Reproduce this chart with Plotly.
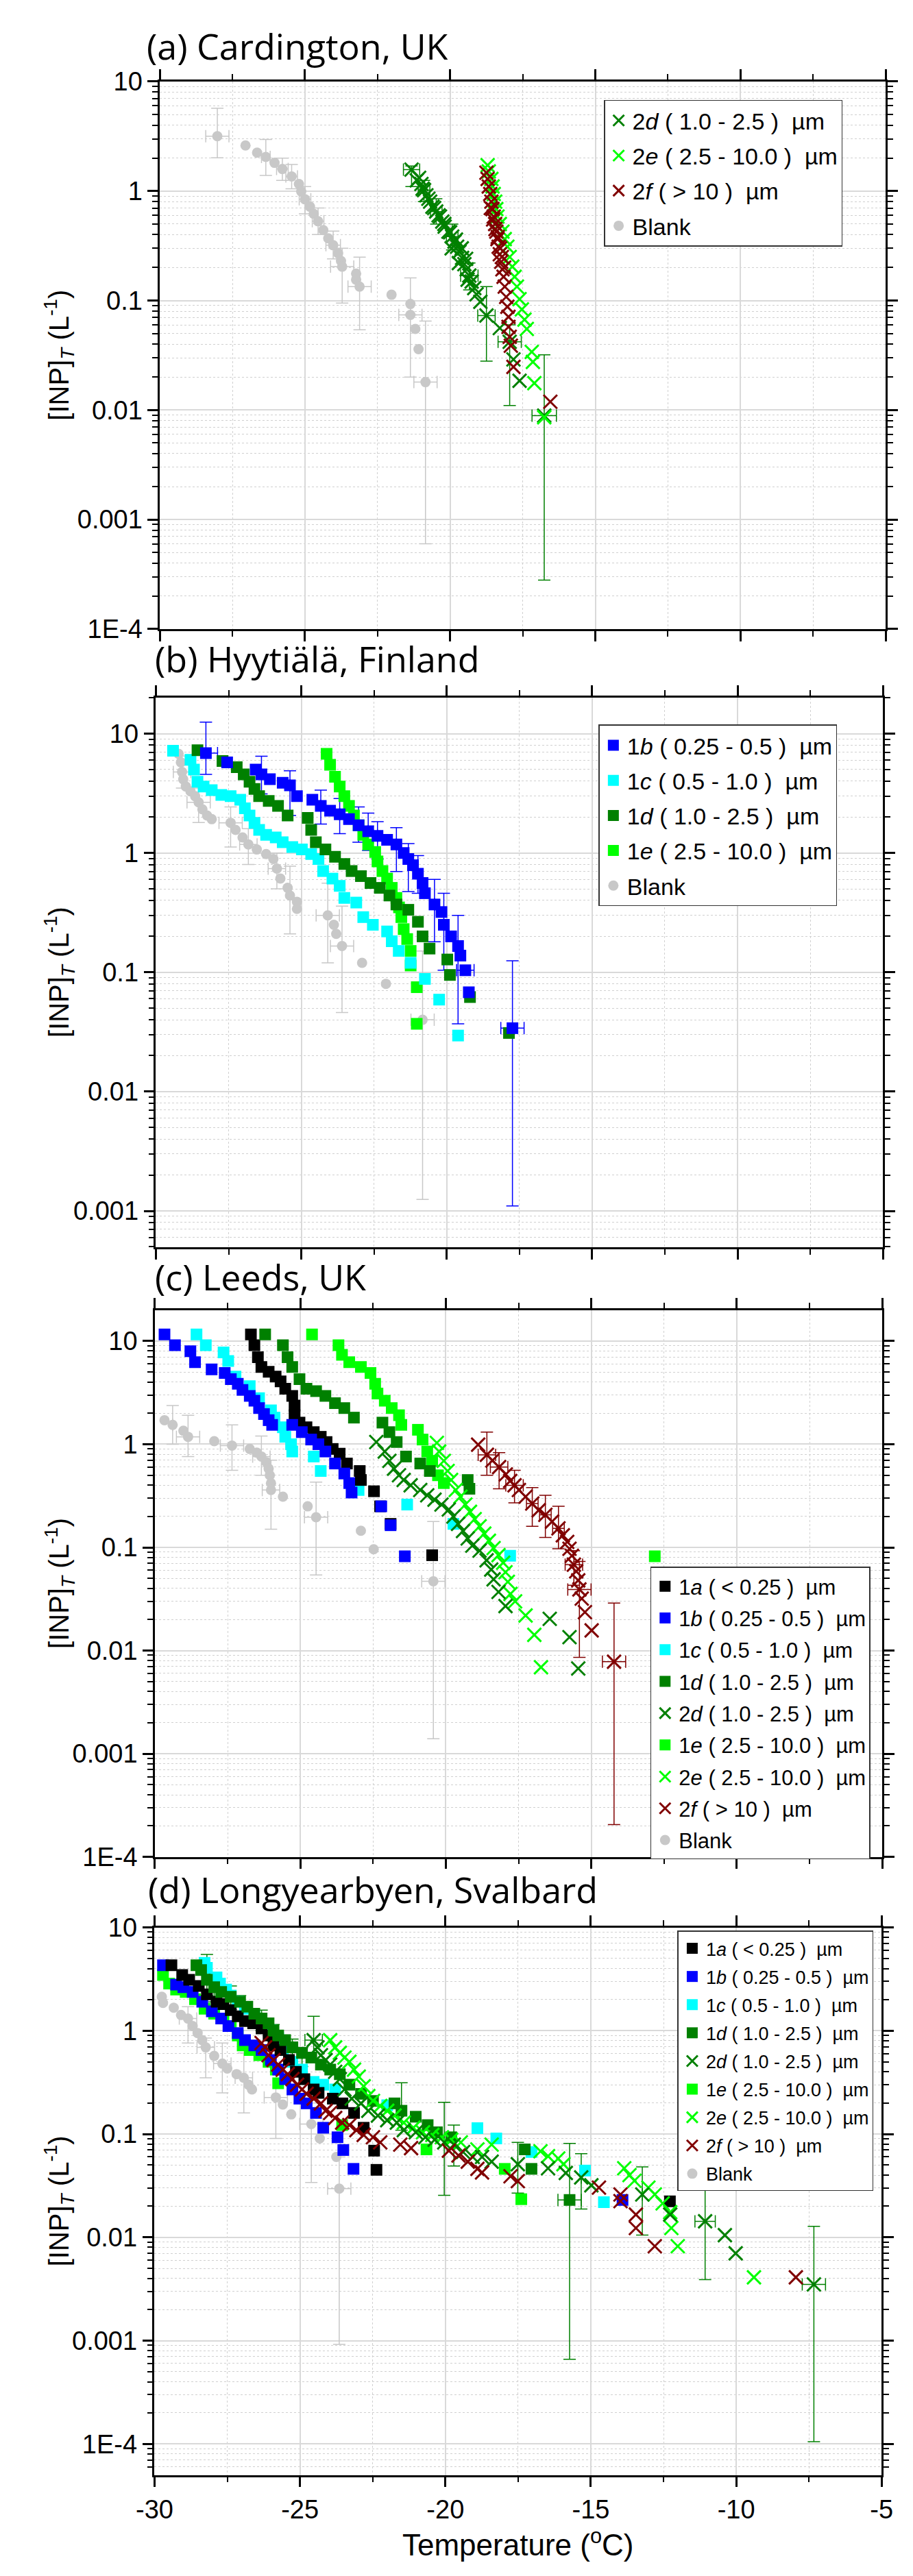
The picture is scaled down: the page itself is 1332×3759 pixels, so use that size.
import plotly.graph_objects as go

# ---------------- DATA ----------------
# Panel (a) Cardington, UK
a_blank_T = [-28.02,-27.05,-26.65,-26.35,-26.05,-25.78,-25.46,-25.21,-25.13,-25.0,-24.83,-24.70,-24.55,-24.37,-24.20,-24.03,-23.86,-23.76,-23.72,-23.24,-23.24,-23.12,-22.02,-21.37,-21.37,-21.20,-21.09,-20.85]
a_blank_C = [3.17,2.61,2.24,2.05,1.81,1.59,1.36,1.16,0.99,0.84,0.72,0.62,0.53,0.44,0.37,0.32,0.27,0.23,0.204,0.176,0.155,0.134,0.113,0.093,0.074,0.055,0.036,0.018]
a_2d_T = [-21.33,-21.07,-20.99,-20.90,-20.82,-20.69,-20.61,-20.48,-20.35,-20.27,-20.19,-20.06,-19.93,-19.85,-19.76,-19.68,-19.59,-19.51,-19.43,-19.34,-19.26,-19.17,-19.09,-18.96,-18.75,-18.29,-17.95,-17.82,-17.61,-16.76,
          -21.15,-20.95,-20.75,-20.55,-20.40,-20.20,-20.00,-19.80,-19.60,-19.45,-19.95,-19.70,-19.40]
a_2d_C = [1.57,1.32,1.16,1.02,0.915,0.80,0.72,0.65,0.585,0.526,0.473,0.426,0.384,0.345,0.31,0.279,0.245,0.215,0.193,0.169,0.149,0.130,0.114,0.0974,0.073,0.056,0.042,0.029,0.0185,0.0089,
          1.25,1.05,0.85,0.70,0.60,0.50,0.42,0.36,0.30,0.24,0.30,0.22,0.155]
a_2e_T = [-18.71,-18.67,-18.58,-18.54,-18.50,-18.45,-18.41,-18.37,-18.29,-18.20,-18.12,-18.03,-17.95,-17.86,-17.78,-17.70,-17.61,-17.53,-17.44,-17.36,-17.19,-17.15,-17.10,-16.76]
a_2e_C = [1.72,1.51,1.29,1.10,0.94,0.80,0.684,0.585,0.50,0.426,0.364,0.31,0.25,0.204,0.165,0.134,0.103,0.083,0.067,0.055,0.034,0.0275,0.0176,0.0086]
a_2f_T = [-18.75,-18.71,-18.67,-18.62,-18.58,-18.54,-18.50,-18.45,-18.41,-18.37,-18.33,-18.29,-18.24,-18.20,-18.16,-18.12,-18.07,-18.03,-17.99,-17.99,-17.95,-17.91,-17.82,-16.55,
          -18.60,-18.52,-18.44,-18.36,-18.28,-18.22,-18.14]
a_2f_C = [1.47,1.29,1.10,0.94,0.80,0.684,0.585,0.50,0.426,0.364,0.31,0.265,0.226,0.193,0.165,0.134,0.108,0.0877,0.071,0.0575,0.0466,0.0387,0.0248,0.0119,
          0.70,0.55,0.45,0.38,0.30,0.25,0.20]
# error bars: (T, conc, upper, lower, x half-width)
a_blank_err = [(-28.02,3.17,5.69,2.01,0.40),(-26.35,2.05,2.96,1.39,0.15),(-25.78,1.59,2.0,1.25,0.20),
               (-25.46,1.36,1.75,1.05,0.20),(-25.0,0.84,1.1,0.62,0.20),(-24.55,0.53,0.70,0.40,0.20),
               (-24.03,0.32,0.43,0.24,0.25),(-23.72,0.204,0.30,0.095,0.40),(-23.12,0.134,0.249,0.054,0.40),
               (-21.37,0.093,0.161,0.020,None),(-21.37,0.074,None,None,0.40),(-20.85,0.018,0.065,0.0006,0.40)]
a_2d_err = [(-21.33,1.57,1.69,1.10,0.28),(-20.90,1.02,1.25,0.80,0.2),(-20.48,0.65,0.85,0.5,0.2),
            (-19.93,0.384,0.5,0.29,0.2),(-19.34,0.169,0.22,0.125,0.3),(-18.75,0.073,0.134,0.028,0.3),
            (-17.95,0.042,0.06,0.011,0.4),(-16.76,0.0089,0.032,0.00028,0.42)]

# Panel (b) Hyytiälä, Finland
b_1b_T = [-28.28,-27.55,-26.57,-26.37,-26.08,-25.64,-25.39,-25.15,-24.62,-24.33,-24.01,-23.68,-23.36,-23.03,-22.70,-22.38,-22.05,-21.73,-21.48,-21.32,-21.16,-20.99,-20.83,-20.75,-20.42,-20.18,-20.10,-19.85,-19.61,-19.53,-19.36,-19.24,-17.74]
b_1b_C = [6.87,5.75,5.0,4.56,4.15,3.87,3.69,2.99,2.79,2.48,2.26,2.11,1.92,1.71,1.52,1.39,1.29,1.18,1.0,0.89,0.79,0.67,0.56,0.46,0.37,0.32,0.25,0.20,0.166,0.138,0.104,0.068,0.034]
b_1c_T = [-29.41,-28.81,-28.69,-28.57,-28.36,-28.08,-27.75,-27.43,-27.10,-26.94,-26.78,-26.61,-26.45,-26.21,-25.88,-25.64,-25.31,-24.98,-24.66,-24.41,-24.25,-23.93,-23.68,-23.52,-23.11,-22.87,-22.54,-22.05,-21.89,-21.65,-21.24,-20.75,-20.26,-19.61]
b_1c_C = [7.2,6.03,5.0,3.96,3.61,3.36,3.06,2.99,2.79,2.37,2.06,1.79,1.56,1.42,1.35,1.23,1.12,1.07,0.98,0.89,0.705,0.61,0.53,0.42,0.384,0.29,0.25,0.22,0.182,0.151,0.12,0.088,0.059,0.0295]
b_1d_T = [-28.57,-27.71,-27.22,-26.98,-26.78,-26.61,-26.45,-26.12,-25.80,-25.47,-24.78,-24.66,-24.50,-24.17,-23.84,-23.52,-23.27,-22.95,-22.62,-22.30,-21.97,-21.73,-21.32,-20.99,-20.83,-20.59,-19.98,-19.89,-19.20,-17.86]
b_1d_C = [7.27,5.89,5.24,4.56,3.96,3.44,2.99,2.73,2.48,2.06,1.97,1.56,1.23,1.07,0.93,0.81,0.705,0.64,0.56,0.51,0.44,0.37,0.334,0.265,0.20,0.158,0.128,0.095,0.062,0.031]
b_1e_T = [-24.13,-24.01,-23.84,-23.68,-23.52,-23.36,-23.19,-23.03,-22.87,-22.70,-22.46,-22.38,-22.21,-22.05,-21.89,-21.73,-21.64,-21.56,-21.48,-21.36,-21.24,-21.24,-21.03,-21.03]
b_1e_C = [6.78,5.49,4.35,3.61,2.99,2.48,2.06,1.71,1.42,1.18,1.02,0.85,0.705,0.61,0.51,0.42,0.35,0.29,0.23,0.19,0.151,0.114,0.075,0.037]
b_blank_T = [-29.22,-29.14,-29.10,-29.06,-28.97,-28.81,-28.65,-28.53,-28.40,-28.24,-28.08,-27.43,-27.26,-27.02,-26.82,-26.53,-26.21,-25.96,-25.84,-25.72,-25.47,-25.39,-25.15,-25.15,-24.09,-23.88,-23.80,-23.60,-22.91,-22.09,-20.83]
b_blank_C = [6.78,5.75,4.77,4.15,3.61,3.29,2.99,2.66,2.32,2.06,1.92,1.79,1.56,1.35,1.18,1.07,0.98,0.89,0.74,0.61,0.51,0.44,0.39,0.34,0.30,0.25,0.21,0.166,0.12,0.080,0.040]
b_blank_err = [(-29.10,4.77,6.5,3.5,0.3),(-28.53,2.66,3.5,1.8,0.4),(-27.43,1.79,2.43,1.12,0.4),
               (-26.82,1.18,1.6,0.8,0.3),(-25.84,0.74,1.0,0.5,0.3),(-25.39,0.44,0.774,0.21,None),
               (-24.09,0.30,0.558,0.12,0.4),(-23.60,0.166,0.358,0.046,0.4),(-20.83,0.040,0.151,0.00125,0.4)]
b_1b_err = [(-28.28,6.87,12.5,4.56,0.4),(-26.37,4.56,6.47,3.13,None),(-25.39,3.69,4.89,2.06,None),
            (-24.33,2.48,3.36,1.75,None),(-23.68,2.11,2.86,1.45,None),(-23.03,1.71,2.43,1.23,None),
            (-22.70,1.52,2.16,1.05,None),(-22.38,1.39,1.83,0.89,None),(-21.73,1.18,1.63,0.70,None),
            (-21.32,0.89,1.2,0.475,None),(-20.99,0.67,0.95,0.46,None),(-20.42,0.37,0.6,0.18,None),
            (-20.10,0.25,0.46,0.104,None),(-19.61,0.166,0.30,0.037,None),(-19.36,0.104,None,None,0.3),
            (-17.74,0.034,0.125,0.0011,0.4)]

# Panel (c) Leeds, UK
c_1a_T = [-26.70,-26.58,-26.46,-26.34,-26.09,-25.85,-25.68,-25.52,-25.28,-25.20,-25.20,-25.03,-24.79,-24.54,-24.30,-24.10,-23.89,-23.65,-23.40,-22.96,-22.92,-22.47,-22.26,-21.90,-20.47]
c_1a_C = [11.6,9.12,6.96,5.61,5.03,4.52,4.06,3.45,2.94,2.37,1.91,1.62,1.46,1.31,1.18,1.05,0.90,0.81,0.65,0.55,0.45,0.35,0.25,0.169,0.084]
c_1b_T = [-29.67,-29.31,-28.78,-28.62,-28.05,-27.60,-27.39,-27.15,-26.99,-26.74,-26.58,-26.42,-26.25,-26.09,-25.97,-25.28,-24.95,-24.63,-24.38,-24.14,-23.81,-23.49,-23.32,-23.24,-22.22,-21.90,-21.41]
c_1b_C = [11.6,9.1,7.96,6.25,5.31,4.9,4.28,3.85,3.36,2.94,2.64,2.24,1.96,1.71,1.54,1.54,1.31,1.11,1.0,0.85,0.65,0.52,0.42,0.34,0.25,0.164,0.082]
c_1c_T = [-28.57,-28.25,-27.64,-27.48,-27.23,-26.74,-26.42,-26.01,-25.89,-25.60,-25.52,-25.32,-25.28,-24.54,-24.30,-23.00,-21.33,-19.74,-17.79]
c_1c_C = [11.6,9.1,7.75,6.41,4.52,3.65,2.79,2.13,1.81,1.46,1.18,1.0,0.85,0.76,0.55,0.36,0.26,0.169,0.083]
c_1d_T = [-26.21,-25.60,-25.44,-25.28,-25.03,-24.79,-24.46,-24.14,-23.81,-23.49,-23.16,-22.18,-21.94,-21.69,-21.37,-20.88,-20.55,-19.25,-19.19]
c_1d_C = [11.6,9.1,6.96,5.61,4.28,3.45,3.27,2.94,2.50,2.24,1.81,1.62,1.31,1.05,0.76,0.65,0.55,0.45,0.37]
c_1e_T = [-24.60,-23.69,-23.57,-23.32,-22.92,-22.59,-22.43,-22.35,-22.10,-21.86,-21.61,-21.53,-20.96,-20.80,-20.64,-20.47,-20.27,-20.07,-12.82]
c_1e_C = [11.6,9.1,7.35,6.25,5.61,4.9,3.85,3.1,2.64,2.24,1.91,1.54,1.38,1.11,0.85,0.69,0.50,0.42,0.082]
c_2d_T = [-22.39,-22.10,-21.94,-21.78,-21.61,-21.45,-21.21,-20.88,-20.64,-20.39,-20.15,-19.90,-19.74,-19.58,-19.41,-19.25,-19.09,-18.84,-18.60,-18.44,-18.36,-18.19,-17.95,-16.43,-15.75,-15.45]
c_2d_C = [1.05,0.85,0.69,0.58,0.50,0.45,0.40,0.36,0.32,0.29,0.26,0.233,0.199,0.169,0.144,0.122,0.104,0.093,0.075,0.061,0.049,0.037,0.027,0.0203,0.0135,0.0067]
c_2e_T = [-20.31,-20.23,-20.07,-19.94,-19.82,-19.66,-19.50,-19.33,-19.17,-19.01,-18.84,-18.68,-18.52,-18.36,-18.19,-18.03,-17.95,-17.87,-17.78,-17.62,-17.26,-16.96,-16.73]
c_2e_C = [1.03,0.85,0.69,0.55,0.45,0.36,0.31,0.26,0.221,0.188,0.16,0.136,0.116,0.0986,0.084,0.071,0.0575,0.0464,0.0354,0.030,0.0219,0.0142,0.0069]
c_2f_T = [-18.89,-18.59,-18.40,-18.17,-17.94,-17.79,-17.64,-17.49,-17.26,-17.03,-16.81,-16.58,-16.35,-16.13,-15.98,-15.83,-15.75,-15.67,-15.60,-15.52,-15.45,-15.41,-15.33,-15.22,-14.99,-14.22]
c_2f_C = [0.99,0.79,0.695,0.60,0.51,0.44,0.40,0.36,0.31,0.266,0.229,0.207,0.178,0.153,0.131,0.113,0.097,0.083,0.068,0.0586,0.0479,0.0391,0.0319,0.0236,0.0157,0.0078]
c_blank_T = [-29.67,-29.39,-29.02,-28.86,-27.96,-27.35,-26.74,-26.50,-26.34,-26.17,-26.09,-26.05,-26.01,-26.01,-25.60,-24.75,-24.46,-22.92,-22.48,-20.43]
c_blank_C = [1.71,1.54,1.35,1.18,1.07,0.97,0.90,0.83,0.76,0.67,0.58,0.50,0.42,0.36,0.31,0.25,0.196,0.145,0.096,0.047]
c_blank_err = [(-29.39,1.54,2.37,1.0,None),(-28.86,1.18,1.91,0.76,0.4),(-27.35,0.97,1.54,0.56,0.4),
               (-26.34,0.76,1.2,0.5,0.3),(-26.01,0.36,0.70,0.15,0.3),(-24.46,0.196,0.43,0.054,0.4),
               (-20.43,0.047,0.178,0.0014,0.4)]
c_2f_err = [(-18.59,0.79,1.31,0.50,0.3),(-18.17,0.60,0.83,0.37,0.3),(-17.64,0.40,0.56,0.27,0.3),
            (-17.03,0.266,0.38,0.16,0.2),(-16.58,0.207,0.32,0.125,0.2),(-16.13,0.153,0.25,0.097,0.2),
            (-15.60,0.068,0.093,0.043,0.3),(-15.41,0.0391,0.073,0.0086,0.4),(-14.22,0.0078,0.0289,0.000206,0.4)]

# Panel (d) Longyearbyen, Svalbard
d_1a_T = [-29.42,-29.05,-28.81,-28.48,-28.20,-27.87,-27.63,-27.38,-27.14,-26.89,-26.61,-26.32,-26.08,-25.91,-25.67,-25.38,-25.14,-24.85,-24.53,-24.36,-23.87,-23.54,-23.14,-22.81,-22.45,-22.37,-12.28]
d_1a_C = [4.3,3.46,3.11,2.71,2.25,1.91,1.81,1.58,1.38,1.24,1.18,1.05,0.90,0.72,0.65,0.52,0.40,0.34,0.27,0.25,0.22,0.198,0.16,0.115,0.069,0.045,0.0223]
d_1b_T = [-29.71,-29.26,-29.01,-28.69,-28.36,-28.03,-27.71,-27.46,-27.14,-26.89,-26.57,-26.32,-26.00,-25.75,-25.51,-25.26,-25.02,-24.77,-24.45,-24.20,-23.71,-23.51,-23.16,-13.91]
d_1b_C = [4.3,2.79,2.64,2.37,1.91,1.54,1.31,1.11,0.95,0.81,0.72,0.65,0.52,0.42,0.34,0.27,0.22,0.198,0.16,0.115,0.093,0.070,0.046,0.023]
d_1c_T = [-28.28,-28.20,-27.87,-27.75,-27.54,-27.38,-27.14,-26.89,-26.57,-26.24,-26.00,-25.75,-25.59,-25.26,-24.93,-24.53,-24.20,-23.79,-22.00,-18.90,-18.25,-17.04,-15.20,-14.55]
d_1c_C = [4.54,4.07,3.28,2.86,2.5,2.19,1.91,1.63,1.38,1.18,1.0,0.85,0.65,0.50,0.42,0.32,0.30,0.27,0.19,0.114,0.0906,0.067,0.0443,0.0219]
d_1d_T = [-28.56,-28.40,-28.20,-27.95,-27.71,-27.38,-27.06,-26.81,-26.57,-26.32,-26.08,-25.91,-25.75,-25.51,-25.26,-24.93,-24.61,-24.28,-23.96,-23.63,-23.30,-22.90,-22.49,-21.75,-21.51,-21.02,-20.61,-20.29,-19.80,-17.27,-17.04,-15.73]
d_1d_C = [4.3,3.86,3.11,2.64,2.37,2.13,1.91,1.71,1.46,1.31,1.18,1.0,0.90,0.81,0.69,0.61,0.55,0.47,0.42,0.38,0.30,0.245,0.209,0.198,0.168,0.147,0.122,0.104,0.093,0.071,0.046,0.023]
d_1e_T = [-29.71,-29.50,-29.26,-28.93,-28.61,-28.28,-27.95,-27.63,-27.38,-27.14,-26.97,-26.73,-26.40,-26.08,-25.83,-25.75,-23.55,-20.65,-17.96,-17.39]
d_1e_C = [3.46,2.86,2.5,2.37,2.02,1.63,1.46,1.31,1.11,0.90,0.72,0.65,0.58,0.50,0.42,0.31,0.122,0.071,0.046,0.0234]
d_2d_T = [-24.53,-24.40,-24.28,-24.12,-23.96,-23.79,-23.63,-23.47,-23.22,-22.90,-22.65,-22.32,-22.00,-21.67,-21.43,-21.02,-20.69,-20.37,-20.04,-19.71,-19.39,-19.06,-18.74,-18.41,-17.51,-16.47,-15.86,-15.33,-14.98,-13.23,-12.27,-11.07,-10.39,-10.02,-7.33]
d_2d_C = [0.81,0.69,0.58,0.52,0.47,0.40,0.34,0.27,0.22,0.198,0.168,0.151,0.136,0.129,0.109,0.104,0.093,0.088,0.083,0.079,0.067,0.060,0.060,0.054,0.051,0.0466,0.042,0.038,0.0319,0.026,0.0166,0.0143,0.0105,0.0070,0.0035]
d_2e_T = [-23.96,-23.79,-23.63,-23.47,-23.30,-23.14,-22.98,-22.81,-22.65,-22.49,-22.24,-22.00,-21.75,-21.43,-21.10,-20.77,-20.45,-20.12,-19.80,-19.47,-18.90,-18.41,-16.73,-16.47,-16.12,-15.94,-13.85,-13.67,-13.50,-13.02,-12.80,-12.53,-12.27,-12.23,-12.01,-9.39]
d_2e_C = [0.81,0.69,0.61,0.55,0.50,0.42,0.36,0.29,0.233,0.209,0.187,0.168,0.151,0.129,0.115,0.104,0.098,0.093,0.088,0.083,0.071,0.079,0.068,0.061,0.058,0.051,0.0466,0.040,0.0353,0.0303,0.026,0.0213,0.0175,0.0123,0.0082,0.0041]
d_2f_T = [-26.32,-26.20,-26.08,-25.91,-25.75,-25.59,-25.42,-25.26,-25.10,-24.93,-24.77,-24.53,-24.28,-24.12,-23.96,-23.79,-23.55,-23.30,-23.06,-22.81,-22.49,-22.24,-21.55,-21.18,-19.88,-19.55,-19.23,-18.90,-18.74,-17.76,-17.51,-14.72,-13.98,-13.98,-13.45,-13.45,-12.80,-7.95]
d_2f_C = [0.76,0.69,0.58,0.52,0.47,0.42,0.38,0.34,0.30,0.27,0.245,0.22,0.198,0.168,0.16,0.143,0.129,0.122,0.109,0.098,0.093,0.083,0.079,0.073,0.069,0.062,0.054,0.046,0.0425,0.039,0.035,0.0303,0.026,0.0224,0.0166,0.0123,0.0082,0.0041]
d_blank_T = [-29.75,-29.71,-29.34,-29.09,-28.85,-28.69,-28.52,-28.36,-28.24,-27.95,-27.67,-27.50,-27.18,-26.93,-26.77,-26.65,-25.83,-25.59,-25.30,-24.61,-24.32,-23.75,-23.65]
d_blank_C = [2.13,1.86,1.67,1.42,1.31,1.11,0.95,0.81,0.69,0.57,0.48,0.43,0.38,0.35,0.30,0.27,0.226,0.193,0.155,0.125,0.0906,0.060,0.0296]
d_blank_err = [(-28.85,1.31,1.71,0.76,0.3),(-28.24,0.69,0.85,0.35,0.3),(-27.67,0.48,0.76,0.25,0.3),
               (-26.93,0.35,0.61,0.16,0.3),(-25.83,0.226,0.40,0.0906,0.4),(-24.61,0.125,0.20,0.034,0.4),
               (-23.65,0.0296,0.06,0.00092,0.4)]
d_2d_err = [(-24.53,0.81,1.38,0.5,0.3),(-20.04,0.083,0.203,0.0255,None),(-19.71,0.079,0.122,0.049,None),
            (-17.51,0.051,0.083,0.0268,None),(-15.33,0.038,0.0645,0.0188,None),(-13.23,0.026,0.048,0.0105,None),
            (-11.07,0.0143,0.0311,0.0039,0.35),(-7.33,0.0035,0.0128,0.000105,0.4)]
d_1d_err = [(-28.20,3.11,5.48,2.2,None),(-27.95,2.64,3.56,1.9,None),(-27.38,2.13,2.71,1.6,None),
            (-27.06,1.91,2.19,1.5,None),(-26.32,1.31,1.58,1.0,None),(-25.91,1.0,1.15,0.8,None),
            (-25.26,0.69,0.83,0.55,None),(-24.93,0.61,0.685,0.45,None),
            (-21.51,0.168,0.313,0.109,None),(-15.73,0.023,0.081,0.00066,0.4)]

# tick labels
x_tickvals = [-30, -25, -20, -15, -10, -5]
x_ticktext = ['-30', '-25', '-20', '-15', '-10', '-5']
y_tickvals = [1e-4, 1e-3, 1e-2, 0.1, 1, 10]
y_ticktext = ['1E-4', '0.001', '0.01', '0.1', '1', '10']

# ---------------- STYLE ----------------
W, H = 1332, 3759
COL = {'1a': '#000000', '1b': '#0000ff', '1c': '#00ffff', '1d': '#008000', '1e': '#00ff00',
       '2d': '#008000', '2e': '#00ff00', '2f': '#800000', 'blank': '#c8c8c8'}
NAME = {'1a': '1<i>a</i> ( &lt; 0.25 )  µm', '1b': '1<i>b</i> ( 0.25 - 0.5 )  µm',
        '1c': '1<i>c</i> ( 0.5 - 1.0 )  µm', '1d': '1<i>d</i> ( 1.0 - 2.5 )  µm',
        '2d': '2<i>d</i> ( 1.0 - 2.5 )  µm', '1e': '1<i>e</i> ( 2.5 - 10.0 )  µm',
        '2e': '2<i>e</i> ( 2.5 - 10.0 )  µm', '2f': '2<i>f</i> ( &gt; 10 )  µm', 'blank': 'Blank'}
RANK = {'1a': 1, '1b': 2, '1c': 3, '1d': 4, '2d': 5, '1e': 6, '2e': 7, '2f': 8, 'blank': 9}

FONT = 'Liberation Sans, Arial, sans-serif'
fig = go.Figure()


def marker_for(key, size_sq=17, size_x=20):
    c = COL[key]
    if key == 'blank':
        return dict(symbol='circle', size=15, color=c, line=dict(width=0))
    if key.startswith('2'):
        return dict(symbol='x-thin', size=size_x, color=c, line=dict(width=3, color=c))
    return dict(symbol='square', size=size_sq, color=c, line=dict(width=0))


def add_series(i, key, T, C, legend):
    fig.add_trace(go.Scatter(x=T, y=C, mode='markers', name=NAME[key], marker=marker_for(key),
                             xaxis='x' + str(i), yaxis='y' + str(i), legend=legend,
                             legendgroup=legend + key, legendrank=RANK[key], cliponaxis=True))


def add_err(i, key, rows):
    T = [r[0] for r in rows]
    C = [r[1] for r in rows]
    plus = [(r[2] - r[1]) if r[2] is not None else None for r in rows]
    minus = [(r[1] - r[3]) if r[3] is not None else None for r in rows]
    xw = [r[4] for r in rows]
    c = COL[key]
    fig.add_trace(go.Scatter(x=T, y=C, mode='markers', showlegend=False, hoverinfo='skip',
                             marker=dict(size=2, opacity=0),
                             error_y=dict(type='data', symmetric=False, array=plus, arrayminus=minus,
                                          color=c, thickness=1.5, width=9),
                             error_x=dict(type='data', array=xw, color=c, thickness=1.5, width=9),
                             xaxis='x' + str(i), yaxis='y' + str(i)))


# Panel a (axes 1)
add_err(1, 'blank', a_blank_err)
add_err(1, '2d', a_2d_err)
add_series(1, 'blank', a_blank_T, a_blank_C, 'legend')
add_series(1, '2d', a_2d_T, a_2d_C, 'legend')
add_series(1, '2e', a_2e_T, a_2e_C, 'legend')
add_series(1, '2f', a_2f_T, a_2f_C, 'legend')

# Panel b (axes 2)
add_err(2, 'blank', b_blank_err)
add_err(2, '1b', b_1b_err)
add_series(2, 'blank', b_blank_T, b_blank_C, 'legend2')
add_series(2, '1e', b_1e_T, b_1e_C, 'legend2')
add_series(2, '1c', b_1c_T, b_1c_C, 'legend2')
add_series(2, '1d', b_1d_T, b_1d_C, 'legend2')
add_series(2, '1b', b_1b_T, b_1b_C, 'legend2')

# Panel c (axes 3)
add_err(3, 'blank', c_blank_err)
add_err(3, '2f', c_2f_err)
add_series(3, 'blank', c_blank_T, c_blank_C, 'legend3')
add_series(3, '1c', c_1c_T, c_1c_C, 'legend3')
add_series(3, '1a', c_1a_T, c_1a_C, 'legend3')
add_series(3, '1b', c_1b_T, c_1b_C, 'legend3')
add_series(3, '1e', c_1e_T, c_1e_C, 'legend3')
add_series(3, '1d', c_1d_T, c_1d_C, 'legend3')
add_series(3, '2e', c_2e_T, c_2e_C, 'legend3')
add_series(3, '2d', c_2d_T, c_2d_C, 'legend3')
add_series(3, '2f', c_2f_T, c_2f_C, 'legend3')

# Panel d (axes 4)
add_err(4, 'blank', d_blank_err)
add_err(4, '2d', d_2d_err)
add_err(4, '1d', d_1d_err)
add_series(4, 'blank', d_blank_T, d_blank_C, 'legend4')
add_series(4, '1e', d_1e_T, d_1e_C, 'legend4')
add_series(4, '1b', d_1b_T, d_1b_C, 'legend4')
add_series(4, '1c', d_1c_T, d_1c_C, 'legend4')
add_series(4, '1a', d_1a_T, d_1a_C, 'legend4')
add_series(4, '1d', d_1d_T, d_1d_C, 'legend4')
add_series(4, '2e', d_2e_T, d_2e_C, 'legend4')
add_series(4, '2d', d_2d_T, d_2d_C, 'legend4')
add_series(4, '2f', d_2f_T, d_2f_C, 'legend4')

# ---------------- LAYOUT ----------------
panels = [
    dict(x=(205, 1300), y=(91, 899), yr=(-4, 1), title='(a) Cardington, UK', tx=183, ty=38),
    dict(x=(199, 1296), y=(1000, 1811), yr=(-3.303, 1.303), title='(b) Hyytiälä, Finland', tx=195, ty=942),
    dict(x=(197.5, 1295), y=(1904, 2711), yr=(-4, 1.3), title='(c) Leeds, UK', tx=195, ty=1854),
    dict(x=(197, 1294), y=(2815, 3623), yr=(-4.3, 1.0), title='(d) Longyearbyen, Svalbard', tx=185, ty=2758),
]
# legend: left px, top px, font size, gap between entries
legend_pos = [(875, 118, 34, 4), (867, 1040, 34, 4), (945, 2283, 31, 3), (986, 2820, 27, 3)]

y_minor = [m * 10 ** e for e in range(-5, 2) for m in range(2, 10)]
x_minor = [-27.5, -22.5, -17.5, -12.5, -7.5]

common = dict(showline=True, linecolor='black', linewidth=2.5, mirror='allticks',
              ticks='outside', ticklen=15, tickwidth=2.5, tickcolor='black',
              showgrid=True, gridcolor='#d9d9d9', gridwidth=1.5, zeroline=False,
              tickfont=dict(family=FONT, size=38, color='black'))

layout = dict(width=W, height=H, autosize=False, paper_bgcolor='white', plot_bgcolor='white',
              margin=dict(l=0, r=0, t=0, b=0, pad=0), showlegend=True, annotations=[])

for i, p in enumerate(panels, start=1):
    xd = [p['x'][0] / W, p['x'][1] / W]
    yd = [1 - p['y'][1] / H, 1 - p['y'][0] / H]
    xa = dict(common, domain=xd, range=[-30, -5], tickmode='array', tickvals=x_tickvals,
              ticktext=x_ticktext, showticklabels=(i == 4), anchor='y' + str(i),
              minor=dict(tickmode='array', tickvals=x_minor, ticks='outside', ticklen=8, tickwidth=2,
                         tickcolor='black', showgrid=True, gridcolor='#d0d0d0', griddash='dot', gridwidth=1))
    ya = dict(common, domain=yd, type='log', range=list(p['yr']), tickmode='array',
              tickvals=y_tickvals, ticktext=y_ticktext, anchor='x' + str(i),
              minor=dict(tickmode='array', tickvals=y_minor, ticks='outside', ticklen=8, tickwidth=2,
                         tickcolor='black', showgrid=True, gridcolor='#d0d0d0', griddash='dot', gridwidth=1))
    sfx = '' if i == 1 else str(i)
    layout['xaxis' + sfx] = xa
    layout['yaxis' + sfx] = ya
    lx, ly, fs, gap = legend_pos[i - 1]
    layout['legend' + sfx] = dict(x=lx / W, y=1 - ly / H, xanchor='left', yanchor='top',
                                  bgcolor='white', bordercolor='#333333', borderwidth=1.5,
                                  font=dict(family=FONT, size=fs, color='black'),
                                  itemsizing='trace', traceorder='grouped', tracegroupgap=gap)
    layout['annotations'].append(dict(text=p['title'], xref='paper', yref='paper', x=p['tx'] / W,
                                      y=1 - p['ty'] / H, xanchor='left', yanchor='middle', showarrow=False,
                                      font=dict(family='Open Sans, sans-serif', size=52, color='black')))
    layout['annotations'].append(dict(text='[INP]<sub><i>T</i></sub> (L<sup>-1</sup>)', xref='paper',
                                      yref='paper', x=53 / W, y=1 - (p['y'][0] + p['y'][1]) / 2 / H,
                                      xanchor='center', yanchor='middle', textangle=-90, showarrow=False,
                                      font=dict(family=FONT, size=40, color='black')))

layout['annotations'].append(dict(text='Temperature (<sup>o</sup>C)', xref='paper', yref='paper',
                                  x=745.5 / W, y=1 - 3723 / H, xanchor='center', yanchor='middle',
                                  showarrow=False, font=dict(family=FONT, size=44, color='black')))

fig.update_layout(**layout)
fig.write_html('out.html')
